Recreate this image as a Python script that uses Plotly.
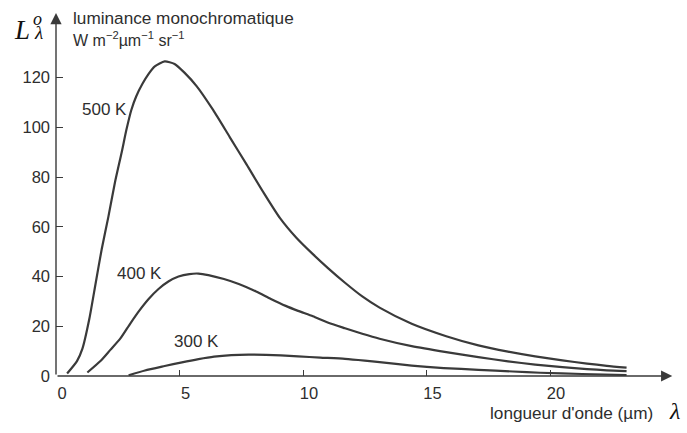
import plotly.graph_objects as go

# ---- data ----
x_500 = [0.45, 0.85, 1.07, 1.35, 1.6, 1.85, 2.12, 2.39, 2.66, 2.85, 3.05, 3.25, 3.5, 3.75, 4.0,
         4.4, 4.8, 5.2, 5.7, 6.36, 7.04, 7.72, 8.39, 9.07, 9.74, 10.4, 11.0, 11.7, 12.4, 13.1,
         14.4, 15.8, 17.1, 18.3, 19.4, 20.5, 21.5, 22.3, 23.1]
y_500 = [1, 6, 11, 23, 37, 51, 64, 78, 90, 99, 107, 112.5, 117.5, 121.5, 124.5,
         126.5, 125.5, 122, 116.5, 107, 96, 85, 74, 63.5, 55.5, 49, 43.5, 37.5, 32, 27.5,
         21, 16, 12.3, 9.8, 7.9, 6.3, 5.0, 4.1, 3.4]

x_400 = [1.27, 1.8, 2.2, 2.6, 3.0, 3.35, 3.75, 4.15, 4.55, 4.96, 5.4, 5.77, 6.17, 6.8, 7.4,
         8.1, 8.7, 9.3, 9.8, 10.4, 11.0, 11.7, 12.4, 13.1, 14.4, 15.8, 17.1, 18.3, 19.4,
         20.5, 21.5, 22.3, 23.1]
y_400 = [1.4, 6, 10.5, 15, 21, 26, 31, 35, 38, 40, 41, 41.2, 40.6, 39, 37,
         34, 31, 28.2, 26.2, 24, 21.5, 19.2, 17, 15, 12, 9.6, 7.6, 5.9, 4.6,
         3.6, 2.8, 2.3, 2.0]

x_300 = [2.94, 3.6, 4.4, 5.1, 5.77, 6.4, 7.1, 7.8, 8.5, 9.1, 9.8, 10.7, 11.7, 12.5, 13.1,
         14.4, 15.7, 17.1, 18.5, 19.6, 21.3, 23.1]
y_300 = [0.3, 2.2, 4, 5.5, 6.8, 7.8, 8.4, 8.6, 8.5, 8.3, 7.9, 7.4, 6.9, 6.2, 5.6,
         4.2, 3.2, 2.5, 1.8, 1.3, 0.8, 0.4]

series_names = ["500 K", "400 K", "300 K"]
label_x = [1.96, 3.38, 5.69]
label_y = [107, 41.4, 13.7]
x_ticks = [0, 5, 10, 15, 20]
y_ticks = [0, 20, 40, 60, 80, 100, 120]

INK = "#3a3a3a"
TXT = "#2e2e2e"
FONT = "Liberation Sans, Arial, Helvetica, sans-serif"
SERIF = "Liberation Serif, Times New Roman, serif"

fig = go.Figure()
for xs, ys, nm in zip([x_500, x_400, x_300], [y_500, y_400, y_300], series_names):
    fig.add_trace(go.Scatter(x=xs, y=ys, mode="lines", name=nm,
                             line=dict(color=INK, width=2.2, shape="spline", smoothing=0.6),
                             showlegend=False, hoverinfo="skip"))

X_MAX = 622 / 24.7
Y_MAX = 148

ann = []
# axis arrows
ann.append(dict(x=24.95, y=0, ax=0, ay=0, xref="x", yref="y", axref="x", ayref="y",
                text="", showarrow=True, arrowhead=2, arrowsize=1.6, arrowwidth=1.4,
                arrowcolor=INK, standoff=0))
ann.append(dict(x=0, y=146, ax=0, ay=0, xref="x", yref="y", axref="x", ayref="y",
                text="", showarrow=True, arrowhead=2, arrowsize=1.6, arrowwidth=1.4,
                arrowcolor=INK, standoff=0))

# curve labels
for nm, lx, ly in zip(series_names, label_x, label_y):
    ann.append(dict(x=lx, y=ly, xref="x", yref="y", text=nm, showarrow=False,
                    xanchor="center", yanchor="middle",
                    font=dict(family=FONT, size=17, color=TXT)))

# y-axis title
ann.append(dict(x=0.6, y=143.8, xref="x", yref="y", text="luminance monochromatique",
                showarrow=False, xanchor="left", yanchor="middle",
                font=dict(family=FONT, size=17.2, color=TXT)))
ann.append(dict(x=0.6, y=135.5, xref="x", yref="y",
                text="W m<sup>−2</sup>µm<sup>−1</sup> sr<sup>−1</sup>",
                showarrow=False, xanchor="left", yanchor="middle",
                font=dict(family=FONT, size=16, color=TXT)))
# L_lambda^o (paper coordinates, outside the plotting area)
ann.append(dict(x=-0.055, y=0.941, xref="paper", yref="paper", text="<i>L</i>", showarrow=False,
                xanchor="center", yanchor="middle",
                font=dict(family=SERIF, size=27, color="#111")))
ann.append(dict(x=-0.0297, y=0.969, xref="paper", yref="paper", text="<i>o</i>", showarrow=False,
                xanchor="center", yanchor="middle",
                font=dict(family=SERIF, size=18, color="#111")))
ann.append(dict(x=-0.0285, y=0.933, xref="paper", yref="paper", text="<i>λ</i>", showarrow=False,
                xanchor="center", yanchor="middle",
                font=dict(family=SERIF, size=19, color="#111")))

# x-axis title
ann.append(dict(x=0.6945, y=-0.1, xref="paper", yref="paper", text="longueur d'onde (µm)",
                showarrow=False, xanchor="left", yanchor="middle",
                font=dict(family=FONT, size=17.2, color=TXT)))
ann.append(dict(x=0.995, y=-0.095, xref="paper", yref="paper", text="<i>λ</i>", showarrow=False,
                xanchor="center", yanchor="middle",
                font=dict(family=SERIF, size=24, color="#111")))

fig.update_layout(
    width=687, height=433,
    margin=dict(l=56, r=9, t=8, b=57, autoexpand=False),
    paper_bgcolor="white", plot_bgcolor="white",
    annotations=ann,
    xaxis=dict(range=[0, X_MAX], showgrid=False, zeroline=False, showline=False,
               automargin=False,
               tickvals=x_ticks, ticktext=[str(v) for v in x_ticks],
               ticks="inside", ticklen=6, tickwidth=1.2, tickcolor=INK,
               ticklabelshift=6, ticklabelstandoff=5,
               tickfont=dict(family=FONT, size=16.5, color=TXT)),
    yaxis=dict(range=[0, Y_MAX], showgrid=False, zeroline=False, showline=False,
               automargin=False,
               tickvals=y_ticks, ticktext=[str(v) for v in y_ticks],
               ticks="inside", ticklen=7, tickwidth=1.2, tickcolor=INK,
               ticklabelstandoff=5,
               tickfont=dict(family=FONT, size=16.5, color=TXT)),
)

fig.write_html("out.html", config={"displayModeBar": False},
               post_script="document.body.style.margin='0';")
